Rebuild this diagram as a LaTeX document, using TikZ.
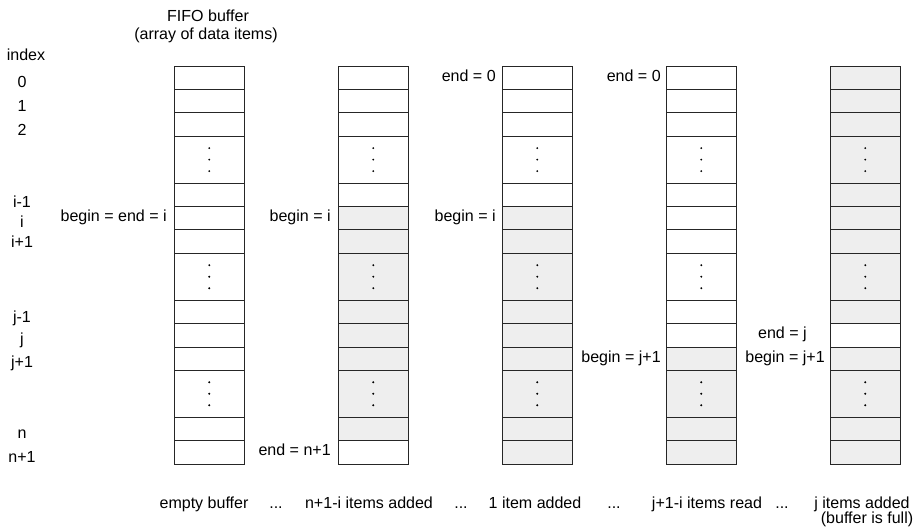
\documentclass[tikz,border=0pt]{standalone}
\usepackage{fontspec}
\setmainfont{Liberation Sans}
\usetikzlibrary{positioning}
\definecolor{filled}{HTML}{EEEEEE}

\begin{document}
\begin{tikzpicture}[x=0.025cm, y=-0.025cm,
    font=\fontsize{11.4}{13.7}\selectfont,
    cell/.style={draw=black!85, line width=0.6pt, minimum width=1.7625cm, anchor=north west, inner sep=0pt, outer sep=0pt},
    idx/.style={anchor=base, inner sep=0pt},
    lbl/.style={inner sep=0pt, text height=0.72em, text depth=0.21em},
    captxt/.style={anchor=base, inner sep=0pt}
  ]
  \useasboundingbox (0,0) rectangle (918,529);

  % heading and index column
  \node[idx] (title) at (208,21) {FIFO buffer};
  \node[idx] (title2) at (206,39) {(array of data items)};
  \node[idx] (index) at (26,60) {index};
  \node[idx] (i0) at (22,87) {0};
  \node[idx] (i1) at (22,111) {1};
  \node[idx] (i2) at (22,135) {2};
  \node[idx] (iim) at (22,207) {i-1};
  \node[idx] (ii) at (22,227) {i};
  \node[idx] (iip) at (22,247) {i+1};
  \node[idx] (ijm) at (22,322) {j-1};
  \node[idx] (ij) at (22,344) {j};
  \node[idx] (ijp) at (22,367) {j+1};
  \node[idx] (in) at (22,438) {n};
  \node[idx] (inp) at (22,462) {n+1};

  % five buffers, shaded rows = stored items
  \foreach \col/\x/\lo/\hi/\gap in {a/174/99/99/-1, b/338/6/15/-1, c/502/6/16/-1, d/666/12/16/-1, e/830/0/16/11}{
    \foreach \row/\pos/\hh in {r0/0/1, r1/1/1, r2/2/1, da/3/2, rim/5/1, ri/6/1, rip/7/1, db/8/2, rjm/10/1, rj/11/1, rjp/12/1, dc/13/2, rn/15/1, rnp/16/1}{
      \pgfmathtruncatemacro\shade{(\pos>=\lo)&&(\pos<=\hi)&&(\pos!=\gap)}
      \ifnum\shade=1 \def\fc{filled}\else\def\fc{white}\fi
      \node[cell, fill=\fc, minimum height=\hh*0.58525cm] (\col\row) at (\x,{66+\pos*23.41}) {};
    }
    \foreach \row in {da,db,dc}
      \foreach \d in {-11.5,0,11.5}
        \fill (\col\row.center) ++(0,\d) circle (0.75pt);
  }

  % begin / end markers
  \node[lbl, left=1.75mm of ari] (bea) {begin = end = i};
  \node[lbl, left=1.75mm of bri] (bb) {begin = i};
  \node[lbl, left=1.75mm of brnp] (eb) {end = n+1};
  \node[lbl, left=1.5mm of cr0] (ec) {end = 0};
  \node[lbl, left=1.5mm of cri] (bc) {begin = i};
  \node[lbl, left=1.25mm of dr0] (ed) {end = 0};
  \node[lbl, left=1.25mm of drjp] (bd) {begin = j+1};
  \node[lbl, left=1.25mm of erjp] (be) {begin = j+1};
  \node[lbl, left=5.75mm of erj] (ee) {end = j};

  % captions
  \node[captxt] (capa) at (204,508) {empty buffer};
  \node[captxt] (dots1) at (276,508) {...};
  \node[captxt] (capb) at (369,508) {n+1-i items added};
  \node[captxt] (dots2) at (461,508) {...};
  \node[captxt] (capc) at (535,508) {1 item added};
  \node[captxt] (dots3) at (614,508) {...};
  \node[captxt] (capd) at (707,508) {j+1-i items read};
  \node[captxt] (dots4) at (782,508) {...};
  \node[captxt] (cape) at (862,508) {j items added};
  \node[captxt] (capf) at (867,523) {(buffer is full)};
\end{tikzpicture}
\end{document}
